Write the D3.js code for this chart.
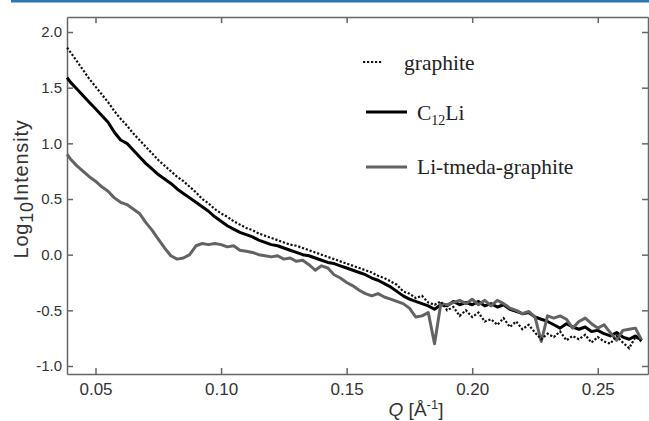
<!DOCTYPE html>
<html>
<head>
<meta charset="utf-8">
<style>
  body { margin: 0; background: #fff; }
  svg { display: block; }
  .axis path, .axis line { stroke: #666; stroke-width: 1.5px; }
  .axis text { font-family: "Liberation Sans", Arial, sans-serif; fill: #333; }
  .legend text { font-family: "Liberation Serif", "Times New Roman", serif; font-size: 21.5px; fill: #222; }
  .label { font-family: "Liberation Sans", Arial, sans-serif; fill: #333; }
</style>
</head>
<body>
<svg width="649" height="421"></svg>
<script src="https://d3js.org/d3.v7.min.js"></script>
<script>

// Q [1/A], shared by all three curves
var qValues = [0.0387, 0.0400, 0.0425, 0.0450, 0.0475, 0.0500, 0.0525, 0.0550, 0.0575, 0.0600,
  0.0625, 0.0650, 0.0675, 0.0700, 0.0725, 0.0750, 0.0775, 0.0800, 0.0825, 0.0850,
  0.0875, 0.0900, 0.0925, 0.0950, 0.0975, 0.1000, 0.1025, 0.1050, 0.1075, 0.1100,
  0.1125, 0.1150, 0.1175, 0.1200, 0.1225, 0.1250, 0.1275, 0.1300, 0.1325, 0.1350,
  0.1375, 0.1400, 0.1425, 0.1450, 0.1475, 0.1500, 0.1525, 0.1550, 0.1575, 0.1600,
  0.1625, 0.1650, 0.1675, 0.1700, 0.1725, 0.1750, 0.1775, 0.1800, 0.1825, 0.1850,
  0.1875, 0.1900, 0.1925, 0.1950, 0.1975, 0.2000, 0.2025, 0.2050, 0.2075, 0.2100,
  0.2125, 0.2150, 0.2175, 0.2200, 0.2225, 0.2250, 0.2275, 0.2300, 0.2325, 0.2350,
  0.2375, 0.2400, 0.2425, 0.2450, 0.2475, 0.2500, 0.2525, 0.2550, 0.2575, 0.2600,
  0.2625, 0.2650, 0.2675];

// log10 intensity
var graphite = [1.86, 1.82, 1.74, 1.66, 1.58, 1.51, 1.44, 1.37, 1.29, 1.22,
  1.16, 1.09, 1.03, 0.97, 0.91, 0.85, 0.80, 0.75, 0.70, 0.66,
  0.61, 0.56, 0.50, 0.46, 0.41, 0.37, 0.34, 0.30, 0.27, 0.24,
  0.22, 0.19, 0.17, 0.15, 0.13, 0.11, 0.09, 0.08, 0.06, 0.04,
  0.02, 0.00, -0.02, -0.04, -0.06, -0.08, -0.10, -0.12, -0.14, -0.16,
  -0.19, -0.21, -0.24, -0.27, -0.33, -0.35, -0.39, -0.37, -0.43, -0.45,
  -0.42, -0.50, -0.47, -0.55, -0.50, -0.56, -0.52, -0.60, -0.58, -0.63,
  -0.57, -0.65, -0.60, -0.67, -0.63, -0.70, -0.76, -0.71, -0.74, -0.69,
  -0.77, -0.73, -0.76, -0.72, -0.79, -0.74, -0.78, -0.80, -0.73, -0.79,
  -0.84, -0.74, -0.78];

var c12li = [1.59, 1.55, 1.49, 1.43, 1.37, 1.31, 1.25, 1.19, 1.10, 1.03,
  1.00, 0.94, 0.88, 0.82, 0.77, 0.72, 0.68, 0.64, 0.59, 0.55,
  0.51, 0.47, 0.43, 0.39, 0.34, 0.30, 0.26, 0.23, 0.20, 0.18,
  0.16, 0.13, 0.11, 0.09, 0.08, 0.06, 0.04, 0.02, 0.00, -0.01,
  -0.03, -0.05, -0.07, -0.08, -0.10, -0.12, -0.14, -0.16, -0.18, -0.21,
  -0.23, -0.26, -0.29, -0.33, -0.37, -0.40, -0.42, -0.44, -0.46, -0.49,
  -0.45, -0.46, -0.42, -0.45, -0.43, -0.45, -0.42, -0.46, -0.44, -0.47,
  -0.45, -0.49, -0.51, -0.53, -0.52, -0.56, -0.58, -0.60, -0.63, -0.66,
  -0.62, -0.65, -0.67, -0.65, -0.69, -0.68, -0.71, -0.73, -0.70, -0.74,
  -0.76, -0.73, -0.77];

var tmeda = [0.90, 0.86, 0.80, 0.75, 0.70, 0.66, 0.61, 0.57, 0.51, 0.47,
  0.45, 0.41, 0.37, 0.29, 0.22, 0.14, 0.06, -0.01, -0.04, -0.03,
  0.00, 0.08, 0.10, 0.09, 0.10, 0.09, 0.07, 0.08, 0.04, 0.03,
  0.02, 0.00, -0.01, -0.02, -0.01, -0.04, -0.03, -0.06, -0.05, -0.09,
  -0.14, -0.10, -0.12, -0.18, -0.21, -0.25, -0.28, -0.32, -0.35, -0.37,
  -0.35, -0.38, -0.40, -0.42, -0.44, -0.48, -0.56, -0.55, -0.52, -0.80,
  -0.44, -0.45, -0.43, -0.41, -0.44, -0.40, -0.45, -0.41, -0.46, -0.41,
  -0.44, -0.48, -0.50, -0.53, -0.51, -0.56, -0.78, -0.55, -0.57, -0.55,
  -0.58, -0.66, -0.60, -0.57, -0.62, -0.66, -0.63, -0.70, -0.77, -0.68,
  -0.67, -0.66, -0.77];

var xTicks = [0.05, 0.10, 0.15, 0.20, 0.25];
var yTicks = [-1.0, -0.5, 0.0, 0.5, 1.0, 1.5, 2.0];
var seriesNames = ["graphite", "C12Li", "Li-tmeda-graphite"];

var svg = d3.select("svg");

// plot box (note: "top" is reserved on window, so use own names)
var plotLeft = 67, plotRight = 648, plotTop = 17, plotBottom = 374;

var x = d3.scaleLinear().domain([0.03865, 0.2700]).range([plotLeft, plotRight]);
var y = d3.scaleLinear().domain([-1.072, 2.135]).range([plotBottom, plotTop]);

// plain hyphen for negatives, like the original
var fmtY = function (d) { return d3.format(".1f")(d).replace("\u2212", "-"); };

// blue rule along the top of the figure
svg.append("rect")
  .attr("x", 11).attr("y", 0)
  .attr("width", 638).attr("height", 2.5)
  .attr("fill", "#2b77b6");

// frame axes, ticks pointing inwards
svg.append("g").attr("class", "axis")
  .attr("transform", "translate(0," + plotBottom + ")")
  .call(d3.axisBottom(x).tickValues(xTicks).tickFormat(d3.format(".2f"))
    .tickSizeInner(-6).tickSizeOuter(0).tickPadding(9))
  .selectAll("text").style("font-size", "17px");

svg.append("g").attr("class", "axis")
  .attr("transform", "translate(0," + plotTop + ")")
  .call(d3.axisTop(x).tickValues(xTicks).tickFormat("")
    .tickSizeInner(-6).tickSizeOuter(0));

svg.append("g").attr("class", "axis")
  .attr("transform", "translate(" + plotLeft + ",0)")
  .call(d3.axisLeft(y).tickValues(yTicks).tickFormat(fmtY)
    .tickSizeInner(-6).tickSizeOuter(0).tickPadding(5))
  .selectAll("text").style("font-size", "15px");

svg.append("g").attr("class", "axis")
  .attr("transform", "translate(" + plotRight + ",0)")
  .call(d3.axisRight(y).tickValues(yTicks).tickFormat("")
    .tickSizeInner(-6).tickSizeOuter(0));

// curves
function lineFor(vals) {
  return d3.line()
    .x(function (d, i) { return x(qValues[i]); })
    .y(function (d) { return y(d); })(vals);
}

svg.append("path")
  .attr("d", lineFor(c12li))
  .attr("fill", "none").attr("stroke", "#000").attr("stroke-width", 3)
  .attr("stroke-linejoin", "round");

svg.append("path")
  .attr("d", lineFor(tmeda))
  .attr("fill", "none").attr("stroke", "#636363").attr("stroke-width", 3)
  .attr("stroke-linejoin", "round");

svg.append("path")
  .attr("d", lineFor(graphite))
  .attr("fill", "none").attr("stroke", "#111").attr("stroke-width", 2.2)
  .attr("stroke-dasharray", "2.2,1.8");

// legend
var legend = svg.append("g").attr("class", "legend");

legend.append("line")
  .attr("x1", 363).attr("x2", 382).attr("y1", 62).attr("y2", 62)
  .attr("stroke", "#111").attr("stroke-width", 2.2).attr("stroke-dasharray", "2.2,1.8");
legend.append("text").attr("x", 404).attr("y", 70).text(seriesNames[0]);

legend.append("line")
  .attr("x1", 366).attr("x2", 407).attr("y1", 112).attr("y2", 112)
  .attr("stroke", "#000").attr("stroke-width", 3);
var c12 = legend.append("text").attr("x", 417).attr("y", 120);
c12.append("tspan").text("C");
c12.append("tspan").attr("dy", 5).style("font-size", "14px").text("12");
c12.append("tspan").attr("dy", -5).text("Li");

legend.append("line")
  .attr("x1", 366).attr("x2", 407).attr("y1", 167).attr("y2", 167)
  .attr("stroke", "#636363").attr("stroke-width", 3);
legend.append("text").attr("x", 417).attr("y", 174).text(seriesNames[2]);

// axis titles
var ylab = svg.append("text").attr("class", "label")
  .attr("transform", "translate(28,189) rotate(-90)")
  .attr("text-anchor", "middle")
  .style("font-size", "20px")
  .style("letter-spacing", "0.8px");
ylab.append("tspan").text("Log");
ylab.append("tspan").attr("dy", 5).style("font-size", "18px").text("10");
ylab.append("tspan").attr("dy", -5).text("Intensity");

var xlab = svg.append("text").attr("class", "label")
  .attr("x", 416).attr("y", 416)
  .attr("text-anchor", "middle")
  .style("font-size", "19px");
xlab.append("tspan").style("font-style", "italic").text("Q");
xlab.append("tspan").text(" [Å");
xlab.append("tspan").attr("dy", -7).style("font-size", "13px").text("-1");
xlab.append("tspan").attr("dy", 7).text("]");

</script>
</body>
</html>
